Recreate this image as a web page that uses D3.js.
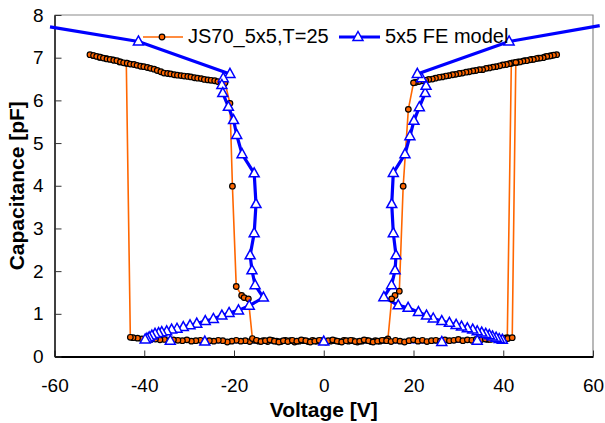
<!DOCTYPE html>
<html>
<head>
<meta charset="utf-8">
<script src="https://cdn.jsdelivr.net/npm/d3@7"></script>
<style>
  body { margin: 0; background: #fff; }
  text { font-family: "Liberation Sans", Arial, sans-serif; fill: #000; }
</style>
</head>
<body>
<div class="container"></div>
<script>
const WIDTH = 605;
const HEIGHT = 423;

const SERIES_NAMES = ['JS70_5x5,T=25', '5x5 FE model'];
const X_TICKS = [-60, -40, -20, 0, 20, 40, 60];
const Y_TICKS = [0, 1, 2, 3, 4, 5, 6, 7, 8];

// measured sweep, in the order it was recorded
const measVoltage = [
  36.5, 37.5, 38.5, 39.5, 40.4, 40.9,
  41.8, 43.3, 44.8, 46.3, 47.8, 49.3, 50.8,
  51.9, 51.2, 50.4, 49.7, 48.9, 48.2, 47.4, 46.7, 45.9, 45.2, 44.4, 43.7, 42.9, 42.2, 41.4,
  40.7, 39.9, 39.2, 38.4, 37.7, 36.9, 36.2, 35.4, 34.7, 33.9, 33.2, 32.4, 31.7, 30.9, 30.2,
  29.4, 28.7, 27.9, 27.2, 26.4, 25.7, 24.9, 24.2, 23.4, 22.7, 21.9, 21.2, 20.4, 20.0,
  18.85, 17.7, 16.84, 15.88, 15.14, 14.3,
  13.5, 12.5, 11.5, 10.5, 9.5, 8.5, 7.5, 6.5, 5.5, 4.5, 3.5, 2.5, 1.5, 0.5, -0.5, -1.5,
  -2.5, -3.5, -4.5, -5.5, -6.5, -7.5, -8.5, -9.5, -10.5, -11.5, -12.5, -13.5, -14.5, -15.5,
  -16.5, -17.5, -18.5, -19.5, -20.5, -21.5, -22.5, -23.5, -24.5, -25.5, -26.5, -27.5, -28.5,
  -29.5, -30.5, -31.5, -32.5, -33.5, -34.5, -35.5, -36.5, -37.5, -38.5, -39.5, -40.5, -41.5,
  -42.5, -43.1,
  -44.0, -45.5, -47.0, -48.5, -50.0, -51.4, -52.1,
  -51.3, -50.6, -49.8, -49.1, -48.3, -47.6, -46.8, -46.1, -45.3, -44.6, -43.8, -43.1, -42.3,
  -41.6, -40.8, -40.1, -39.3, -38.6, -37.8, -37.1, -36.3, -35.6, -34.8, -34.1, -33.3, -32.6,
  -31.8, -31.1, -30.3, -29.6, -28.8, -28.1, -27.3, -26.6, -25.8, -25.1, -24.3, -23.6, -22.8, -22.0,
  -20.9, -20.35, -19.5, -18.3, -17.75, -16.8,
  -15.9, -15.0, -14.0, -13.0, -12.0, -11.0, -10.0, -9.0, -8.0, -7.0, -6.0, -5.0, -4.0, -3.0,
  -2.0, -1.0, 0.0, 1.0, 2.0, 3.0, 4.0, 5.0, 6.0, 7.0, 8.0, 9.0, 10.0, 11.0, 12.0, 13.0, 14.0,
  15.0, 16.0, 17.0, 18.0, 19.0, 20.0, 21.0, 22.0, 23.0, 24.0, 25.0, 26.0, 27.0, 28.0, 29.0,
  30.0, 31.0, 32.0, 33.0, 34.0, 35.0, 36.0, 37.0, 38.0, 39.0, 40.0, 41.0, 42.0,
  42.8
];
const measCap = [
  0.40, 0.41, 0.40, 0.42, 0.43, 0.44,
  6.87, 6.90, 6.93, 6.96, 6.99, 7.02, 7.05,
  7.07, 7.06, 7.04, 7.03, 7.00, 6.99, 6.98, 6.96, 6.95, 6.93, 6.92, 6.90, 6.89, 6.88, 6.86,
  6.84, 6.83, 6.81, 6.79, 6.78, 6.76, 6.75, 6.72, 6.72, 6.70, 6.69, 6.67, 6.66, 6.64, 6.63,
  6.61, 6.60, 6.58, 6.57, 6.55, 6.54, 6.52, 6.50, 6.49, 6.47, 6.46, 6.44, 6.42, 6.41,
  5.79, 3.99, 1.53, 1.43, 1.35, 0.41,
  0.38, 0.36, 0.37, 0.35, 0.38, 0.36, 0.34, 0.37, 0.36, 0.38, 0.35, 0.37, 0.36, 0.34, 0.37, 0.36,
  0.38, 0.35, 0.37, 0.36, 0.34, 0.37, 0.38, 0.35, 0.36, 0.38, 0.35, 0.37, 0.36, 0.38,
  0.35, 0.37, 0.36, 0.38, 0.36, 0.34, 0.37, 0.38, 0.36, 0.37, 0.35, 0.38, 0.37,
  0.36, 0.39, 0.37, 0.38, 0.39, 0.37, 0.40, 0.39, 0.41, 0.40, 0.42, 0.41, 0.43,
  0.44, 0.45,
  6.87, 6.90, 6.95, 6.98, 7.01, 7.05, 7.07,
  7.05, 7.03, 7.01, 6.99, 6.97, 6.96, 6.94, 6.93, 6.90, 6.88, 6.87, 6.85, 6.84,
  6.82, 6.80, 6.79, 6.77, 6.75, 6.73, 6.70, 6.67, 6.64, 6.63, 6.62, 6.60, 6.59,
  6.58, 6.57, 6.56, 6.55, 6.53, 6.52, 6.51, 6.49, 6.48, 6.47, 6.46, 6.44, 6.42, 6.41,
  5.93, 3.99, 1.64, 1.43, 1.38, 1.35,
  0.42, 0.38, 0.35, 0.37, 0.39, 0.36, 0.34, 0.37, 0.35, 0.38, 0.36, 0.39, 0.37, 0.34,
  0.36, 0.38, 0.35, 0.37, 0.39, 0.36, 0.34, 0.37, 0.38, 0.35, 0.36, 0.39, 0.37, 0.34, 0.36, 0.38, 0.37,
  0.35, 0.38, 0.36, 0.34, 0.37, 0.39, 0.36, 0.38, 0.35, 0.37, 0.38, 0.36, 0.39, 0.37, 0.38,
  0.40, 0.37, 0.39, 0.38, 0.40, 0.39, 0.41, 0.40, 0.42, 0.41, 0.43, 0.42, 0.44,
  6.89
];

// FE model curve
const modelVoltage = [
  -61.0, -41.3, -20.9,
  -22.4, -22.7, -22.5, -21.25, -20.1, -19.4, -18.2, -15.5, -15.1, -15.5, -16.4, -16.0, -15.3,
  -13.45, -16.6, -19.0, -21.1, -22.7, -24.6, -26.4, -28.3, -29.8, -31.3, -32.7, -33.9, -35.0,
  -36.1, -36.8, -37.6, -38.3, -38.9, -39.4, -39.8,
  -34.2, -26.5, 0.0, 26.3, 34.2,
  39.8, 39.1, 38.4, 37.6, 36.9, 36.1, 35.2, 34.2, 33.2, 32.0, 30.7, 29.5, 28.0, 26.3, 24.4,
  22.9, 21.1, 18.8, 16.6, 13.4,
  15.1, 15.9, 16.1, 15.5, 15.15, 15.5, 18.1, 19.2, 20.1, 21.3, 22.6, 22.8, 21.8, 20.85,
  41.3, 61.5
];
const modelCap = [
  7.72, 7.38, 6.62,
  6.52, 6.36, 6.17, 5.85, 5.54, 5.19, 4.74, 4.29, 3.57, 2.89, 2.37, 2.02, 1.67,
  1.38, 1.19, 1.08, 1.02, 0.96, 0.88, 0.83, 0.77, 0.73, 0.69, 0.65, 0.63, 0.59,
  0.57, 0.55, 0.53, 0.49, 0.45, 0.42, 0.40,
  0.37, 0.35, 0.35, 0.34, 0.37,
  0.39, 0.41, 0.44, 0.47, 0.50, 0.53, 0.56, 0.59, 0.63, 0.66, 0.70, 0.74, 0.79, 0.83, 0.89,
  0.96, 1.04, 1.14, 1.20, 1.39,
  1.67, 2.02, 2.37, 2.89, 3.57, 4.30, 4.74, 5.16, 5.52, 5.84, 6.17, 6.34, 6.52, 6.62,
  7.38, 7.75
];

const ORANGE = '#ff6600';
const BLUE = '#0000ff';
const TRIANGLE = 'M0,-5.5L5,3.5L-5,3.5Z';

var zip = function (xs, ys) {
  return xs.map(function (v, i) { return [v, ys[i]]; });
};

var svg = d3.select('.container').append('svg')
  .attr('width', WIDTH)
  .attr('height', HEIGHT);

var x = d3.scaleLinear().domain([-60, 60]).range([54.5, 593]);
var y = d3.scaleLinear().domain([0, 8]).range([356.5, 15]);

// plot frame: grey top and right edges
svg.append('path')
  .attr('d', 'M' + x(-60) + ',' + y(8) + 'H' + x(60) + 'V' + y(0))
  .attr('fill', 'none')
  .attr('stroke', '#8a8a8a')
  .attr('stroke-width', 1.2);

var xAxis = svg.append('g')
  .attr('transform', 'translate(0,' + y(0) + ')')
  .call(d3.axisBottom(x).tickValues(X_TICKS).tickSizeInner(-6).tickSizeOuter(0).tickPadding(22)
    .tickFormat(function (d) { return String(d); }));
xAxis.select('.domain').attr('stroke', '#000').attr('stroke-width', 1.8);
xAxis.selectAll('.tick line').attr('stroke', '#333');
xAxis.selectAll('text').style('font-size', '19px').attr('fill', '#000');

var yAxis = svg.append('g')
  .attr('transform', 'translate(' + x(-60) + ',0)')
  .call(d3.axisLeft(y).tickValues(Y_TICKS).tickSizeInner(-7).tickSizeOuter(0).tickPadding(11)
    .tickFormat(function (d) { return String(d); }));
yAxis.select('.domain').attr('stroke', '#000').attr('stroke-width', 1.5);
yAxis.selectAll('.tick line').attr('stroke', '#333');
yAxis.selectAll('text').style('font-size', '19px').attr('fill', '#000');

svg.append('text')
  .attr('x', (x(-60) + x(60)) / 2)
  .attr('y', 417)
  .attr('text-anchor', 'middle')
  .style('font-size', '21px')
  .style('font-weight', 'bold')
  .text('Voltage [V]');

svg.append('text')
  .attr('transform', 'translate(24,' + (y(0) + y(8)) / 2 + ') rotate(-90)')
  .attr('text-anchor', 'middle')
  .style('font-size', '21px')
  .style('font-weight', 'bold')
  .text('Capacitance [pF]');

var line = d3.line()
  .x(function (d) { return x(d[0]); })
  .y(function (d) { return y(d[1]); });

var meas = zip(measVoltage, measCap);
var model = zip(modelVoltage, modelCap);

svg.append('path')
  .datum(meas)
  .attr('d', line)
  .attr('fill', 'none')
  .attr('stroke', ORANGE)
  .attr('stroke-width', 1.6);

svg.append('path')
  .datum(model)
  .attr('d', line)
  .attr('fill', 'none')
  .attr('stroke', BLUE)
  .attr('stroke-width', 3.2)
  .attr('stroke-linejoin', 'round');

svg.append('g').selectAll('circle')
  .data(meas)
  .enter().append('circle')
  .attr('cx', function (d) { return x(d[0]); })
  .attr('cy', function (d) { return y(d[1]); })
  .attr('r', 2.8)
  .attr('fill', ORANGE)
  .attr('stroke', '#000')
  .attr('stroke-width', 1.2);

svg.append('g').selectAll('path')
  .data(model.filter(function (d) { return d[0] >= -60 && d[0] <= 60; }))
  .enter().append('path')
  .attr('d', TRIANGLE)
  .attr('transform', function (d) { return 'translate(' + x(d[0]) + ',' + y(d[1]) + ')'; })
  .attr('fill', '#fff')
  .attr('stroke', BLUE)
  .attr('stroke-width', 1.5);

// legend
var legend = svg.append('g');
legend.append('line')
  .attr('x1', 143).attr('x2', 183).attr('y1', 37).attr('y2', 37)
  .attr('stroke', ORANGE).attr('stroke-width', 1.6);
legend.append('circle')
  .attr('cx', 162).attr('cy', 37).attr('r', 2.8)
  .attr('fill', ORANGE).attr('stroke', '#000').attr('stroke-width', 1.2);
legend.append('text')
  .attr('x', 188).attr('y', 43)
  .style('font-size', '20px')
  .text(SERIES_NAMES[0]);

legend.append('line')
  .attr('x1', 339).attr('x2', 380).attr('y1', 37).attr('y2', 37)
  .attr('stroke', BLUE).attr('stroke-width', 3.2);
legend.append('path')
  .attr('d', TRIANGLE)
  .attr('transform', 'translate(358,37)')
  .attr('fill', '#fff').attr('stroke', BLUE).attr('stroke-width', 1.5);
legend.append('text')
  .attr('x', 385).attr('y', 43)
  .style('font-size', '20px')
  .text(SERIES_NAMES[1]);
</script>
</body>
</html>
